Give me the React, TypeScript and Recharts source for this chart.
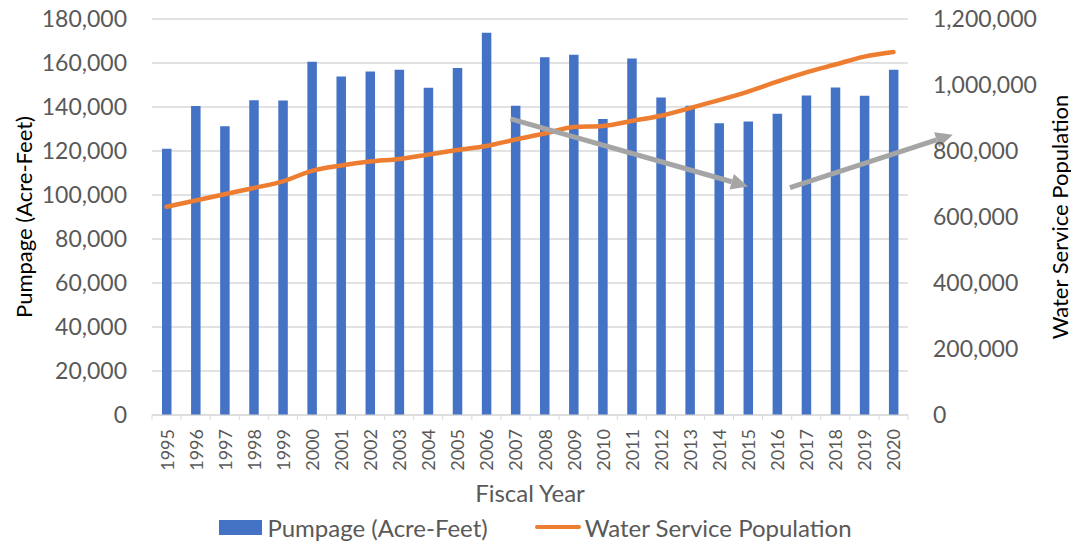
import React from 'react';
import { ComposedChart, Bar, Line, XAxis, YAxis, CartesianGrid, Legend, ReferenceLine } from 'recharts';

const FONT = 'Lato, "Open Sans", sans-serif';

const years = [
  '1995', '1996', '1997', '1998', '1999', '2000', '2001', '2002', '2003', '2004', '2005', '2006', '2007',
  '2008', '2009', '2010', '2011', '2012', '2013', '2014', '2015', '2016', '2017', '2018', '2019', '2020',
];

// acre-feet pumped per fiscal year
const pumpage = [
  121000, 140500, 131200, 143100, 142900, 160600, 153900, 156100, 156900, 148800, 157700, 173700, 140600,
  162600, 163700, 134500, 162000, 144300, 140600, 132600, 133400, 136900, 145200, 148900, 145100, 156900,
];

// people served
const population = [
  631000, 650000, 669000, 688000, 708000, 740000, 756000, 768000, 776000, 789000, 803000, 815000, 835000,
  853000, 873000, 876000, 891000, 907000, 930000, 954000, 980000, 1010000, 1038000, 1062000, 1086000, 1100000,
];

const leftTicks = [0, 20000, 40000, 60000, 80000, 100000, 120000, 140000, 160000, 180000];
const rightTicks = [0, 200000, 400000, 600000, 800000, 1000000, 1200000];

// hand-drawn trend arrows, x in fractional fiscal years, y in acre-feet
const trendArrows = [
  { from: { x: 2006.83, y: 134600 }, to: { x: 2015, y: 103900 } },
  { from: { x: 2016.44, y: 103400 }, to: { x: 2022.04, y: 127400 } },
];

const data = years.map((year, i) => ({
  year,
  fy: Number(year),
  pumpage: pumpage[i],
  population: population[i],
}));

const fmt = (v: number) => v.toLocaleString('en-US');

const YearTick = (props: any) => {
  const { x, y, payload, index, visibleTicksCount } = props;
  const half = payload && payload.offset ? payload.offset : 14.54;
  return (
    <g>
      <line x1={x - half} x2={x - half} y1={y - 14} y2={y - 9} stroke="#D9D9D9" />
      {index === visibleTicksCount - 1 && (
        <line x1={x + half} x2={x + half} y1={y - 14} y2={y - 9} stroke="#D9D9D9" />
      )}
      <text
        x={x}
        y={y}
        transform={`rotate(-90 ${x} ${y})`}
        textAnchor="end"
        dominantBaseline="central"
        fill="#595959"
        fontSize={18}
        fontFamily={FONT}
      >
        {payload.value}
      </text>
    </g>
  );
};

const VerticalTitle = ({ x, y, text }: { x: number; y: number; text: string }) => (
  <text
    x={x}
    y={y}
    transform={`rotate(-90 ${x} ${y})`}
    textAnchor="middle"
    dominantBaseline="central"
    fill="#000"
    fontSize={22}
    fontFamily={FONT}
  >
    {text}
  </text>
);

const ArrowShape = (props: any) => {
  const { x1, y1, x2, y2 } = props;
  if (![x1, y1, x2, y2].every((v) => Number.isFinite(v))) return <g />;
  const a = Math.atan2(y2 - y1, x2 - x1);
  const len = 17;
  const half = 8;
  const bx = x2 - len * Math.cos(a);
  const by = y2 - len * Math.sin(a);
  const px = -Math.sin(a) * half;
  const py = Math.cos(a) * half;
  return (
    <g>
      <line x1={x1} y1={y1} x2={bx} y2={by} stroke="#A5A5A5" strokeWidth={5} />
      <polygon points={`${x2},${y2} ${bx + px},${by + py} ${bx - px},${by - py}`} fill="#A5A5A5" />
    </g>
  );
};

const renderLegend = (props: any) => {
  const items = props.payload || [];
  return (
    <div
      style={{
        display: 'flex',
        justifyContent: 'center',
        alignItems: 'center',
        height: 34,
        fontFamily: FONT,
        fontSize: 24,
        color: '#595959',
      }}
    >
      {items.map((item: any, i: number) => (
        <div key={i} style={{ display: 'flex', alignItems: 'center', marginLeft: i === 0 ? 0 : 47 }}>
          {item.type === 'line' ? (
            <span style={{ width: 46, height: 4, borderRadius: 2, background: item.color, marginRight: 4 }} />
          ) : (
            <span style={{ width: 43, height: 15, background: item.color, marginRight: 5 }} />
          )}
          <span>{item.value}</span>
        </div>
      ))}
    </div>
  );
};

export default function App() {
  return (
    <div style={{ position: 'absolute', left: 0, top: 0, background: '#fff' }}>
      <ComposedChart width={1071} height={544} data={data} margin={{ top: 19, right: 0, bottom: 0, left: 0 }}>
        <CartesianGrid yAxisId="left" vertical={false} stroke="#D9D9D9" strokeWidth={1.3} />
        <XAxis
          dataKey="year"
          height={95}
          interval={0}
          axisLine={{ stroke: '#D9D9D9' }}
          tickLine={false}
          tickSize={5}
          tickMargin={9}
          tick={<YearTick />}
          label={{
            value: 'Fiscal Year',
            content: (p: any) => {
              const vb = p.viewBox || { x: 152, y: 409, width: 756 };
              return (
                <text
                  x={vb.x + vb.width / 2}
                  y={vb.y + 77}
                  textAnchor="middle"
                  dominantBaseline="central"
                  fill="#595959"
                  fontSize={24}
                  fontFamily={FONT}
                >
                  Fiscal Year
                </text>
              );
            },
          }}
        />
        <XAxis
          xAxisId="fy"
          dataKey="fy"
          type="number"
          domain={[1994.5, 2020.5]}
          allowDataOverflow
          hide
        />
        <YAxis
          yAxisId="left"
          width={152}
          domain={[0, 180000]}
          ticks={leftTicks}
          interval={0}
          tickFormatter={fmt}
          axisLine={false}
          tickLine={false}
          tickSize={0}
          tickMargin={25}
          tick={{ fill: '#595959', fontSize: 23, fontFamily: FONT }}
          label={{
            value: 'Pumpage (Acre-Feet)',
            content: (p: any) => {
              const vb = p.viewBox || { x: 0, y: 19, height: 390 };
              return <VerticalTitle x={vb.x + 23} y={vb.y + vb.height / 2} text="Pumpage (Acre-Feet)" />;
            },
          }}
        />
        <YAxis
          yAxisId="right"
          orientation="right"
          width={163}
          domain={[0, 1200000]}
          ticks={rightTicks}
          interval={0}
          tickFormatter={fmt}
          axisLine={false}
          tickLine={false}
          tickSize={0}
          tickMargin={25}
          tick={{ fill: '#595959', fontSize: 23, fontFamily: FONT, textAnchor: 'start' }}
          label={{
            value: 'Water Service Population',
            content: (p: any) => {
              const vb = p.viewBox || { x: 908, y: 19, height: 390 };
              return <VerticalTitle x={vb.x + 151} y={vb.y + vb.height / 2} text="Water Service Population" />;
            },
          }}
        />
        <Bar
          yAxisId="left"
          dataKey="pumpage"
          name="Pumpage (Acre-Feet)"
          fill="#4472C4"
          barSize={9.5}
          isAnimationActive={false}
        />
        <Line
          yAxisId="right"
          dataKey="population"
          name="Water Service Population"
          type="monotone"
          stroke="#ED7D31"
          strokeWidth={4.5}
          strokeLinecap="round"
          dot={false}
          activeDot={false}
          isAnimationActive={false}
        />
        {trendArrows.map((a, i) => (
          <ReferenceLine
            key={i}
            xAxisId="fy"
            yAxisId="left"
            segment={[a.from, a.to]}
            ifOverflow="visible"
            shape={(p: any) => <ArrowShape {...p} />}
          />
        ))}
        <Legend verticalAlign="bottom" content={renderLegend} />
      </ComposedChart>
    </div>
  );
}
